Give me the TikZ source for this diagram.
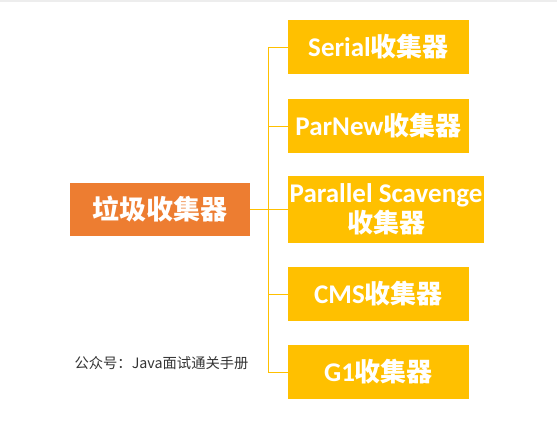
\documentclass[tikz,border=0pt]{standalone}
\usepackage{fontspec}
\setmainfont{Noto Sans CJK SC}
\newfontfamily\latinbold{Carlito}
\definecolor{rootorange}{HTML}{ED7D31}
\definecolor{leafgold}{HTML}{FFC000}
\newcommand{\lt}[1]{{\latinbold\bfseries\fontsize{27}{30}\selectfont #1}}
\tikzset{
  rootbox/.style={fill=rootorange, text=white, inner sep=0pt, minimum width=180pt, minimum height=53pt,
    font=\bfseries\fontsize{27}{30}\selectfont},
  leafbox/.style={fill=leafgold, text=white, inner sep=0pt, minimum width=181pt, minimum height=54pt,
    align=center, font=\bfseries\fontsize{26}{30}\selectfont},
  branch/.style={draw=leafgold, line width=1pt},
}
\begin{document}
\begin{tikzpicture}[x=1pt,y=-1pt]
\useasboundingbox (0,0) rectangle (557,424);
\draw[black!7, line width=2pt] (0,1) -- (557,1);

% root and collectors
\node[rootbox] (root) at (160,209.5) {垃圾收集器};
\node[leafbox] (serial) at (378.5,47) {\lt{Serial}收集器};
\node[leafbox] (parnew) at (378.5,126) {\lt{ParNew}收集器};
\node[leafbox, minimum width=196pt, minimum height=67pt] (parallel) at (386,209.5) {\lt{Parallel Scavenge}\\收集器};
\node[leafbox] (cms) at (378.5,294) {\lt{CMS}收集器};
\node[leafbox] (g1) at (378.5,372) {\lt{G1}收集器};

% tree connectors
\coordinate (j) at (268,209.5);
\draw[branch] (root.east) -- (j);
\draw[branch] (j |- serial.west) -- (j |- g1.west);
\foreach \n in {serial,parnew,parallel,cms,g1}
  \draw[branch] (j |- \n.west) -- (\n.west);

\node[text=black!80, font=\fontsize{14.3}{17}\selectfont, inner sep=0pt] (mark) at (161.5,363) {公众号：Java面试通关手册};
\end{tikzpicture}
\end{document}
